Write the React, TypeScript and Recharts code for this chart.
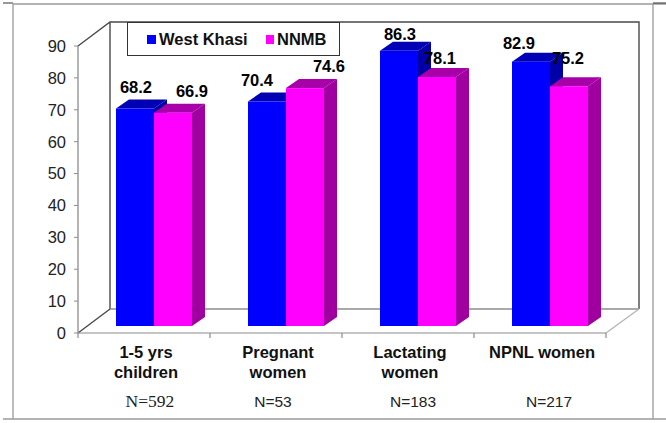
import React from "react";
import { BarChart, Bar, XAxis, YAxis, LabelList } from "recharts";

const categories = [["1-5 yrs", "children"], ["Pregnant", "women"], ["Lactating", "women"], ["NPNL women"]];
const sampleSizes = ["N=592", "N=53", "N=183", "N=217"];
const westKhasi = [68.2, 70.4, 86.3, 82.9];
const nnmb = [66.9, 74.6, 78.1, 75.2];
const yTicks = [0, 10, 20, 30, 40, 50, 60, 70, 80, 90];

const data = categories.map((c, i) => ({ name: c.join(" "), west: westKhasi[i], nnmb: nnmb[i] }));

const SANS = "'Liberation Sans', Arial, sans-serif";
const BLUE = { front: "#0000FF", top: "#0000B4", side: "#0000A6" };
const PINK = { front: "#FF00FF", top: "#A800A8", side: "#A000A0" };
const DEPTH_X = 13;
const DEPTH_Y = 9;
const SHIFT_X = 10;
const SHIFT_Y = 7;
const westNudge = [[1, -16], [-10, -16], [1, -11], [-12, -13]];
const nnmbNudge = [[19, -16], [24, -16], [3, -13], [-1, -22]];
const nNudge = [6, -3, 5, 9];

function Bar3D(props: any) {
  const { x, y, width, height, colors } = props;
  const l = x + SHIFT_X;
  const t = y - SHIFT_Y;
  const r = l + width;
  const b = t + height;
  return (
    <g>
      <polygon points={`${l},${t} ${l + DEPTH_X},${t - DEPTH_Y} ${r + DEPTH_X},${t - DEPTH_Y} ${r},${t}`} fill={colors.top} />
      <polygon points={`${r},${t} ${r + DEPTH_X},${t - DEPTH_Y} ${r + DEPTH_X},${b - DEPTH_Y} ${r},${b}`} fill={colors.side} />
      <rect x={l} y={t} width={width} height={height} fill={colors.front} />
    </g>
  );
}

function makeLabel(nudge: number[][]) {
  return function ValueLabel(props: any) {
    const { x, y, width, value, index } = props;
    return (
      <text
        x={x + SHIFT_X + width / 2 + nudge[index][0]}
        y={y - SHIFT_Y + nudge[index][1]}
        textAnchor="middle"
        fontFamily={SANS}
        fontWeight="bold"
        fontSize={16.5}
        fill="#000"
      >
        {value}
      </text>
    );
  };
}

function CategoryTick(props: any) {
  const { x, index } = props;
  const lines = categories[index];
  return (
    <g>
      {lines.map((line, i) => (
        <text key={line} x={x + 2} y={358 + i * 20} textAnchor="middle" fontFamily={SANS} fontWeight="bold" fontSize={16.5} fill="#111">
          {line}
        </text>
      ))}
      <text
        x={x + nNudge[index]}
        y={407}
        textAnchor="middle"
        fontFamily={index === 0 ? "'Liberation Serif', serif" : SANS}
        fontSize={index === 0 ? 17.5 : 15.5}
        fill="#222"
      >
        {sampleSizes[index]}
      </text>
    </g>
  );
}

function Frame() {
  const dark = "#4a4a4a";
  const gray = "#8c8c8c";
  const light = "#b4b4b4";
  const outer = "#9a9a9a";
  return (
    <g fill="none">
      <path d="M13 4H666M13 4V419M653 4V419M3 419H666" stroke={outer} strokeWidth={1.3} />
      <path d="M3 3H13M653 3H666" stroke="#333" strokeWidth={1} />
      <path d="M78 46L110 22H639V309M110 22V309M78 333L110 309" stroke={dark} strokeWidth={1.4} />
      <path d="M110 309H639" stroke={gray} strokeWidth={1.3} />
      <path d="M606 333L639 309" stroke={light} strokeWidth={1.3} />
      <path d="M78 333H606M78 333V338M210 333V338M342 333V338M474 333V338M606 333V338" stroke={gray} strokeWidth={1.2} />
    </g>
  );
}

function LegendBox() {
  return (
    <div
      style={{
        position: "absolute",
        left: 127,
        top: 22,
        width: 211,
        height: 32,
        border: "1.5px solid #333",
        background: "#fff",
        boxSizing: "content-box",
        fontFamily: SANS,
        fontWeight: "bold",
        fontSize: 16.5,
        color: "#111",
      }}
    >
      <span style={{ position: "absolute", left: 19, top: 12, width: 9, height: 9, background: BLUE.front }} />
      <span style={{ position: "absolute", left: 31, top: 7 }}>West Khasi</span>
      <span style={{ position: "absolute", left: 138, top: 12, width: 8, height: 9, background: PINK.front }} />
      <span style={{ position: "absolute", left: 149, top: 7 }}>NNMB</span>
    </div>
  );
}

export default function App() {
  return (
    <div style={{ position: "absolute", left: 0, top: 0, width: 666, height: 423, background: "#fff" }}>
      <BarChart
        width={666}
        height={423}
        data={data}
        barSize={38}
        barGap={0}
        margin={{ top: 46, right: 60, bottom: 0, left: 0 }}
      >
        <Frame />
        <XAxis dataKey="name" axisLine={false} tickLine={false} interval={0} tick={<CategoryTick />} height={90} />
        <YAxis
          width={78}
          domain={[0, 90]}
          ticks={yTicks}
          interval={0}
          axisLine={{ stroke: "#8c8c8c", strokeWidth: 1.3 }}
          tickLine={{ stroke: "#8c8c8c" }}
          tickSize={4}
          tickMargin={8}
          tick={{ fontFamily: SANS, fontSize: 16.5, fill: "#222" }}
        />
        <Bar dataKey="west" isAnimationActive={false} shape={(p: any) => <Bar3D {...p} colors={BLUE} />}>
          <LabelList dataKey="west" content={makeLabel(westNudge)} />
        </Bar>
        <Bar dataKey="nnmb" isAnimationActive={false} shape={(p: any) => <Bar3D {...p} colors={PINK} />}>
          <LabelList dataKey="nnmb" content={makeLabel(nnmbNudge)} />
        </Bar>
      </BarChart>
      <LegendBox />
    </div>
  );
}
